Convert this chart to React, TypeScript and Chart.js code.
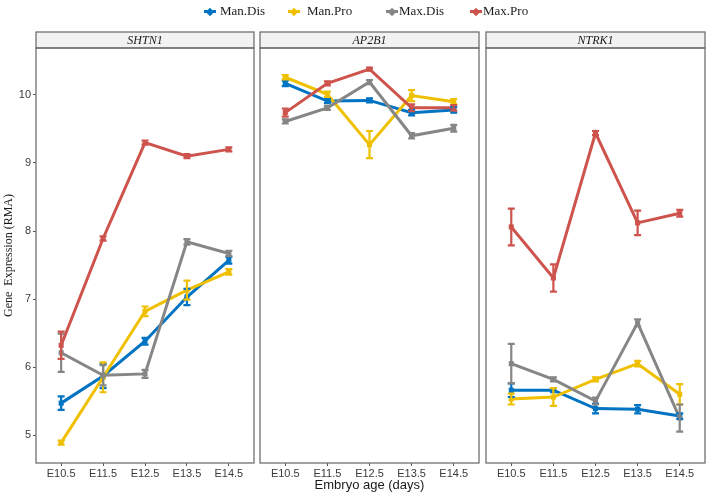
import React, { useEffect, useRef } from "react";
import { Chart, registerables } from "chart.js";
Chart.register(...registerables);

const AGES = ["E10.5", "E11.5", "E12.5", "E13.5", "E14.5"];
const SERIES = ["Man.Dis", "Man.Pro", "Max.Dis", "Max.Pro"];
const GENES = ["SHTN1", "AP2B1", "NTRK1"];
const Y_TICKS = [5, 6, 7, 8, 9, 10];

// SHTN1
const SHTN1_MAN_DIS = [5.47, 5.87, 6.38, 7.03, 7.57];
const SHTN1_MAN_PRO = [4.89, 5.85, 6.82, 7.13, 7.4];
const SHTN1_MAX_DIS = [6.21, 5.88, 5.9, 7.84, 7.67];
const SHTN1_MAX_PRO = [6.32, 7.89, 9.3, 9.1, 9.2];
const SHTN1_MAN_DIS_ERR = [0.1, 0.18, 0.05, 0.12, 0.05];
const SHTN1_MAN_PRO_ERR = [0.03, 0.22, 0.07, 0.14, 0.04];
const SHTN1_MAX_DIS_ERR = [0.28, 0.15, 0.06, 0.04, 0.04];
const SHTN1_MAX_PRO_ERR = [0.2, 0.03, 0.03, 0.03, 0.03];

// AP2B1
const AP2B1_MAN_DIS = [10.17, 9.91, 9.92, 9.74, 9.78];
const AP2B1_MAN_PRO = [10.26, 10.01, 9.27, 9.99, 9.9];
const AP2B1_MAX_DIS = [9.61, 9.81, 10.19, 9.4, 9.51];
const AP2B1_MAX_PRO = [9.74, 10.17, 10.38, 9.81, 9.81];
const AP2B1_MAN_DIS_ERR = [0.04, 0.03, 0.03, 0.04, 0.04];
const AP2B1_MAN_PRO_ERR = [0.03, 0.04, 0.2, 0.08, 0.04];
const AP2B1_MAX_DIS_ERR = [0.03, 0.03, 0.03, 0.04, 0.05];
const AP2B1_MAX_PRO_ERR = [0.06, 0.03, 0.02, 0.05, 0.04];

// NTRK1
const NTRK1_MAN_DIS = [5.66, 5.66, 5.39, 5.38, 5.28];
const NTRK1_MAN_PRO = [5.53, 5.56, 5.82, 6.05, 5.6];
const NTRK1_MAX_DIS = [6.05, 5.82, 5.5, 6.65, 5.25];
const NTRK1_MAX_PRO = [8.06, 7.31, 9.44, 8.12, 8.26];
const NTRK1_MAN_DIS_ERR = [0.1, 0.03, 0.07, 0.06, 0.04];
const NTRK1_MAN_PRO_ERR = [0.08, 0.13, 0.03, 0.04, 0.15];
const NTRK1_MAX_DIS_ERR = [0.29, 0.03, 0.05, 0.05, 0.2];
const NTRK1_MAX_PRO_ERR = [0.27, 0.2, 0.03, 0.18, 0.05];

const GENE_VALUES = [
  [SHTN1_MAN_DIS, SHTN1_MAN_PRO, SHTN1_MAX_DIS, SHTN1_MAX_PRO],
  [AP2B1_MAN_DIS, AP2B1_MAN_PRO, AP2B1_MAX_DIS, AP2B1_MAX_PRO],
  [NTRK1_MAN_DIS, NTRK1_MAN_PRO, NTRK1_MAX_DIS, NTRK1_MAX_PRO],
];
const GENE_ERRORS = [
  [SHTN1_MAN_DIS_ERR, SHTN1_MAN_PRO_ERR, SHTN1_MAX_DIS_ERR, SHTN1_MAX_PRO_ERR],
  [AP2B1_MAN_DIS_ERR, AP2B1_MAN_PRO_ERR, AP2B1_MAX_DIS_ERR, AP2B1_MAX_PRO_ERR],
  [NTRK1_MAN_DIS_ERR, NTRK1_MAN_PRO_ERR, NTRK1_MAX_DIS_ERR, NTRK1_MAX_PRO_ERR],
];

const COLORS = ["#0073C2", "#EFC000", "#868686", "#CD534C"];
const W = 709;
const H = 493;
const PANEL_LEFT = [36, 260, 486];
const PANEL_RIGHT = [254, 479, 705];
const STRIP_TOP = 32;
const PLOT_TOP = 48;
const SANS = "'Liberation Sans', Arial, sans-serif";
const SERIF = "'Liberation Serif', 'Times New Roman', serif";
const LEGEND_POS = [
  { marker: 210, text: 220 },
  { marker: 294, text: 307 },
  { marker: 392, text: 399 },
  { marker: 476, text: 483 },
];

const decorPlugin = {
  id: "decor",
  beforeDraw(chart: any, _args: any, opts: any) {
    const { ctx, chartArea } = chart;
    ctx.save();
    ctx.fillStyle = "#f2f2f2";
    ctx.fillRect(chartArea.left, STRIP_TOP, chartArea.right - chartArea.left, chartArea.top - STRIP_TOP);
    ctx.strokeStyle = "#707070";
    ctx.lineWidth = 1.3;
    ctx.strokeRect(chartArea.left, STRIP_TOP, chartArea.right - chartArea.left, chartArea.top - STRIP_TOP);
    ctx.fillStyle = "#1a1a1a";
    ctx.font = `italic 12px ${SERIF}`;
    ctx.textAlign = "center";
    ctx.textBaseline = "middle";
    ctx.fillText(opts.label, (chartArea.left + chartArea.right) / 2, (STRIP_TOP + chartArea.top) / 2 + 0.5);
    ctx.restore();
  },
  afterDatasetsDraw(chart: any, _args: any, opts: any) {
    const { ctx, chartArea } = chart;
    const ys = chart.scales.y;
    ctx.save();
    chart.data.datasets.forEach((ds: any, di: number) => {
      const meta = chart.getDatasetMeta(di);
      const errs = opts.errors[di];
      ctx.strokeStyle = ds.borderColor;
      ctx.lineWidth = 2.2;
      meta.data.forEach((pt: any, k: number) => {
        const v = ds.data[k].y;
        const e = errs[k];
        const y1 = ys.getPixelForValue(v - e);
        const y2 = ys.getPixelForValue(v + e);
        ctx.beginPath();
        ctx.moveTo(pt.x, y1);
        ctx.lineTo(pt.x, y2);
        ctx.moveTo(pt.x - 3.5, y1);
        ctx.lineTo(pt.x + 3.5, y1);
        ctx.moveTo(pt.x - 3.5, y2);
        ctx.lineTo(pt.x + 3.5, y2);
        ctx.stroke();
      });
    });
    ctx.strokeStyle = "#707070";
    ctx.lineWidth = 1.3;
    ctx.strokeRect(chartArea.left, chartArea.top, chartArea.right - chartArea.left, chartArea.bottom - chartArea.top);
    ctx.restore();
  },
};

function Panel({ index }: { index: number }) {
  const ref = useRef<HTMLCanvasElement | null>(null);
  useEffect(() => {
    if (!ref.current) return;
    const values = GENE_VALUES[index];
    const errors = GENE_ERRORS[index];
    const chart = new Chart(ref.current, {
      type: "line",
      data: {
        datasets: SERIES.map((name, si) => ({
          label: name,
          data: values[si].map((v, k) => ({ x: k, y: v })),
          borderColor: COLORS[si],
          backgroundColor: COLORS[si],
          borderWidth: 3,
          pointStyle: "rect",
          pointRadius: 3.6,
          pointBorderWidth: 0,
          tension: 0,
          order: SERIES.length - si,
        })),
      },
      plugins: [decorPlugin],
      options: {
        responsive: false,
        animation: false,
        events: [],
        layout: {
          padding: {
            left: index === 0 ? 0 : PANEL_LEFT[index],
            right: W - PANEL_RIGHT[index],
            top: PLOT_TOP,
            bottom: 0,
          },
        },
        plugins: {
          legend: { display: false },
          tooltip: { enabled: false },
          decor: { label: GENES[index], errors },
        } as any,
        scales: {
          x: {
            type: "linear",
            min: -0.6,
            max: 4.6,
            afterBuildTicks: (s: any) => {
              s.ticks = AGES.map((_, k) => ({ value: k }));
            },
            afterFit: (s: any) => {
              s.height = 30;
            },
            ticks: {
              callback: (v: any) => AGES[v as number],
              color: "#3a3a3a",
              font: { family: SANS, size: 11 },
              padding: 1,
              maxRotation: 0,
              autoSkip: false,
            },
            grid: { drawOnChartArea: false, tickLength: 3, color: "#555", lineWidth: 1 },
            border: { display: false },
            title: {
              display: index === 1,
              text: "Embryo age (days)",
              color: "#1a1a1a",
              font: { family: SANS, size: 13 },
              padding: { top: 0, bottom: 0 },
            },
          },
          y: {
            display: index === 0,
            min: 4.59,
            max: 10.69,
            afterBuildTicks: (s: any) => {
              s.ticks = Y_TICKS.map((v) => ({ value: v }));
            },
            afterFit: (s: any) => {
              s.width = index === 0 ? 36 : 0;
            },
            ticks: {
              color: "#3a3a3a",
              font: { family: SANS, size: 11 },
              padding: 2,
            },
            grid: { drawOnChartArea: false, tickLength: 3, color: "#555", lineWidth: 1 },
            border: { display: false },
            title: {
              display: true,
              text: "Gene  Expression (RMA)",
              color: "#1a1a1a",
              font: { family: SERIF, size: 12 },
              padding: { top: 2, bottom: 0 },
            },
          },
        },
      } as any,
    });
    return () => chart.destroy();
  }, [index]);
  return (
    <canvas
      ref={ref}
      width={W}
      height={H}
      style={{ position: "absolute", left: 0, top: 0, width: W, height: H }}
    />
  );
}

export default function App() {
  return (
    <div
      style={{
        position: "fixed",
        left: 0,
        top: 0,
        width: W,
        height: H,
        background: "#ffffff",
        overflow: "hidden",
      }}
    >
      {GENES.map((g, i) => (
        <Panel key={g} index={i} />
      ))}
      {SERIES.map((name, si) => (
        <React.Fragment key={name}>
          <div
            style={{
              position: "absolute",
              left: LEGEND_POS[si].marker - 6,
              top: 10,
              width: 12,
              height: 3,
              background: COLORS[si],
            }}
          />
          <div
            style={{
              position: "absolute",
              left: LEGEND_POS[si].marker - 3,
              top: 8.5,
              width: 6,
              height: 6,
              background: COLORS[si],
              transform: "rotate(45deg)",
            }}
          />
          <div
            style={{
              position: "absolute",
              left: LEGEND_POS[si].text,
              top: 3,
              fontFamily: SERIF,
              fontSize: 13,
              lineHeight: "16px",
              color: "#1a1a1a",
              whiteSpace: "nowrap",
            }}
          >
            {name}
          </div>
        </React.Fragment>
      ))}
    </div>
  );
}
